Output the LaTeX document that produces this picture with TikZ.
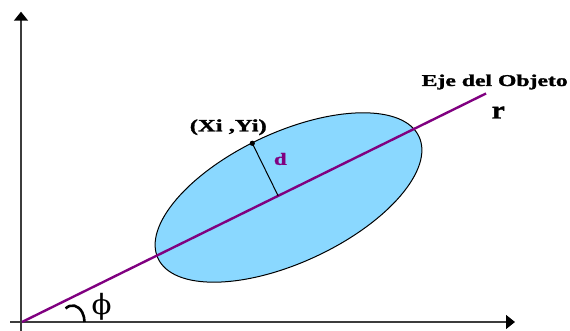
\documentclass[tikz,border=0pt]{standalone}
\usepackage{fontspec}
\setmainfont{Liberation Serif}
\newfontfamily\heavy[FakeBold=1.3]{Liberation Serif}
\newfontfamily\phifont{DejaVu Serif}
\usepackage{graphicx}
\usetikzlibrary{arrows.meta,calc}
\definecolor{axisgray}{RGB}{60,60,60}
\definecolor{objpurple}{RGB}{128,0,128}
\definecolor{ellfill}{RGB}{138,216,255}
\begin{document}
\begin{tikzpicture}[x=1pt,y=1pt,
  lbl/.style={inner sep=0pt, outer sep=0pt},
  axisline/.style={axisgray, line width=1.5pt, -{Triangle[length=9pt,width=14pt,color=black]}},
  objline/.style={objpurple, line width=2.4pt},
  thinline/.style={black, line width=1pt}]
\useasboundingbox (0,0) rectangle (570,331);
% coordinates
\coordinate (yb) at (21,0);
\coordinate (yt) at (21,319.3);
\coordinate (xl) at (10,9);
\coordinate (xr) at (515,9);
\coordinate (C) at (288.5,133.5);
\coordinate (O) at (22,9);
\coordinate (E) at (486,237.5);
\coordinate (P) at (252.3,187.7);
\coordinate (F) at ($(O)!(P)!(E)$);
\coordinate (arcS) at ({72.5+12*cos(125)},{9+16.5*sin(125)});
% axes
\draw[axisline] (yb) -- (yt);
\draw[axisline] (xl) -- (xr);
% ellipse
\draw[thinline, fill=ellfill, rotate around={25:(C)}] (C) ellipse [x radius=144, y radius=65];
% object axis
\draw[objline] (O) -- (E);
% distance d
\draw[thinline] (P) -- (F);
\fill[black] (P) circle (2.6);
% angle
\draw[black, line width=2.6pt] (arcS) arc[start angle=125, end angle=0, x radius=12, y radius=16.5];
% labels
\node[lbl, anchor=base west] (eje) at (421.7,245) {\resizebox{146pt}{\height}{\fontsize{16.5}{18}\heavy\bfseries Eje del Objeto}};
\node[lbl] (r) at (498.3,218.5) {\resizebox*{13pt}{12pt}{\heavy\bfseries r}};
\node[lbl] (xy) at (228.3,203.8) {\resizebox*{77pt}{15.7pt}{\heavy\bfseries (Xi ,Yi)}};
\node[lbl, text=objpurple] (d) at (280.3,172) {\resizebox*{12.7pt}{12pt}{\heavy\bfseries d}};
\node[lbl] (phi) at (101.7,24.5) {\resizebox*{20pt}{27pt}{\phifont ϕ}};
\end{tikzpicture}
\end{document}
